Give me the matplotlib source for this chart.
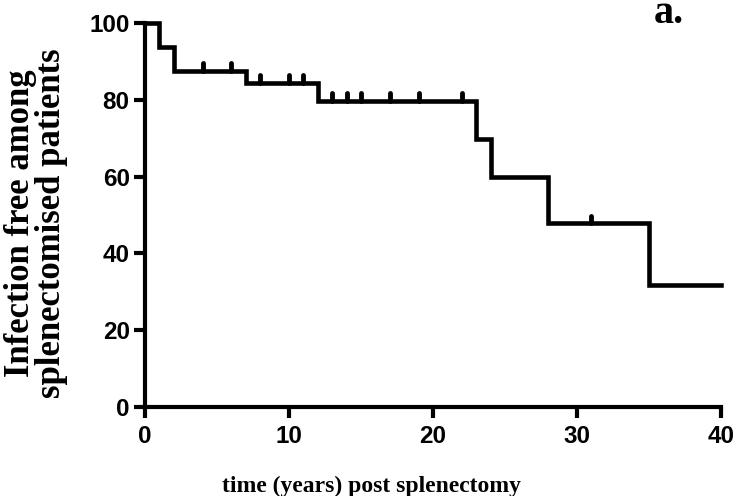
import matplotlib
matplotlib.use("Agg")
import matplotlib.pyplot as plt

# Kaplan-Meier step data (time in years, % infection free)
step_times = [0, 1, 2, 7, 12, 23, 24, 28, 35, 40]
step_surv = [100, 93.75, 87.5, 84.4, 79.7, 69.7, 59.8, 47.8, 31.9, 31.9]
censor_times = [4, 6, 8, 10, 11, 13, 14, 15, 17, 19, 22, 31]
x_ticks = [0, 10, 20, 30, 40]
y_ticks = [0, 20, 40, 60, 80, 100]

fig = plt.figure(figsize=(7.36, 4.96), dpi=100)
ax = fig.add_axes([0.197, 0.179, 0.7825, 0.775])

ax.step(step_times, step_surv, where="post", color="black", lw=3.3,
        solid_joinstyle="miter", clip_on=False, zorder=3)

def surv_at(t):
    s = step_surv[0]
    for tt, ss in zip(step_times, step_surv):
        if t >= tt:
            s = ss
    return s

censor_vals = [surv_at(t) for t in censor_times]
ax.vlines(censor_times, censor_vals, [v + 2.0 for v in censor_vals],
          color="black", lw=3.5, capstyle="round", clip_on=False, zorder=3)

ax.set_xlim(0, 40)
ax.set_ylim(0, 100)
ax.set_xticks(x_ticks)
ax.set_yticks(y_ticks)

for s in ["top", "right"]:
    ax.spines[s].set_visible(False)
for s in ["left", "bottom"]:
    ax.spines[s].set_linewidth(3)
    ax.spines[s].set_capstyle("projecting")

ax.tick_params(axis="both", direction="out", length=8, width=3,
               labelsize=17.5)
ax.tick_params(axis="y", pad=3)
ax.tick_params(axis="x", pad=5)
for lab in ax.get_xticklabels() + ax.get_yticklabels():
    lab.set_fontfamily("Liberation Sans")
    lab.set_fontweight("bold")

fig.text(371 / 736, 1 - 492 / 496, "time (years) post splenectomy",
         fontfamily="Liberation Serif", fontweight="bold", fontsize=17,
         ha="center", va="baseline")
fig.text(36 / 736, 1 - 223 / 496, "Infection free among\nsplenectomised patients",
         fontfamily="Liberation Serif", fontweight="bold", fontsize=25,
         ha="center", va="center", rotation=90, linespacing=0.95,
         multialignment="center")

fig.text(654 / 736, 1 - 23 / 496, "a.", fontfamily="Liberation Serif",
         fontweight="bold", fontsize=29, ha="left", va="baseline")

fig.savefig("out.png", dpi=100)
